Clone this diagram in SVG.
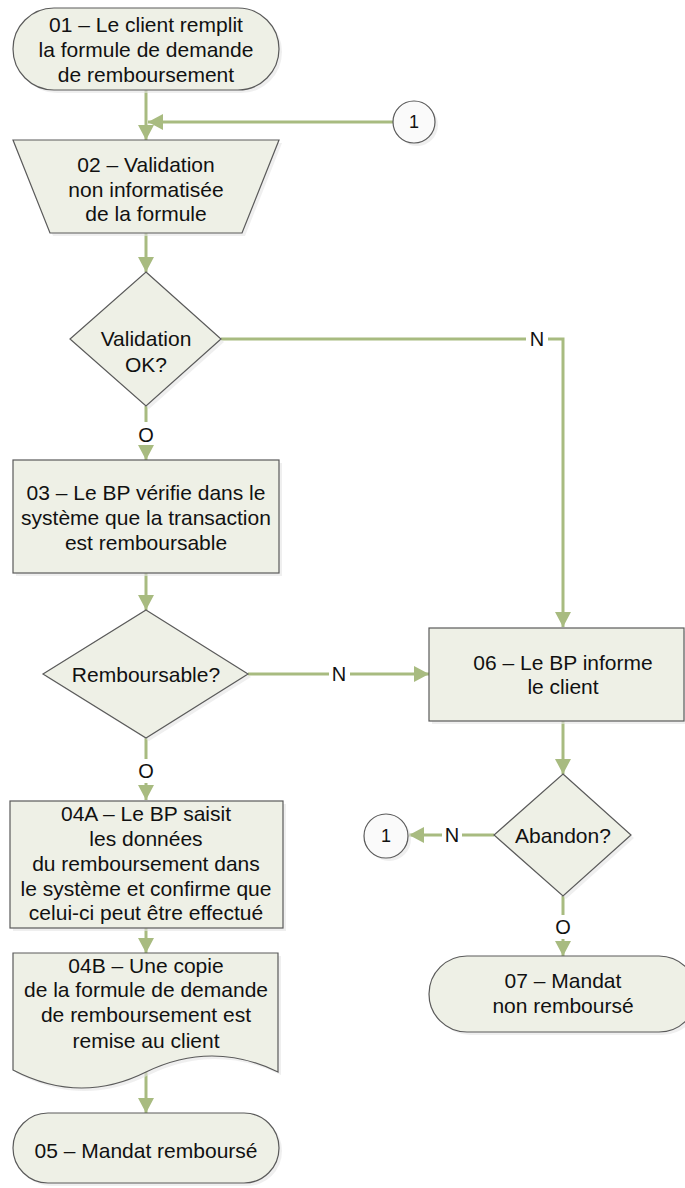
<svg xmlns="http://www.w3.org/2000/svg" width="685" height="1188" viewBox="0 0 685 1188">
<style>
.n{fill:#EEF0E6;stroke:#5a5a5a;stroke-width:1.2}
.sh{fill:#e4e4e4;opacity:0.6}
.c{fill:none;stroke:#A8BB80;stroke-width:3}
.t{font-family:"Liberation Sans",Arial,sans-serif;font-size:21px;fill:#111;text-anchor:middle}
.lb{font-family:"Liberation Sans",Arial,sans-serif;font-size:20px;fill:#111;text-anchor:middle}
.k{font-family:"Liberation Sans",Arial,sans-serif;font-size:18px;fill:#111;text-anchor:middle}
.ci{fill:#fafafa;stroke:#5a5a5a;stroke-width:1.2}
</style>
<defs>
<marker id="ar" markerUnits="userSpaceOnUse" markerWidth="16" markerHeight="16" refX="15" refY="8" orient="auto">
<path d="M0,0 L15,8 L0,16 z" fill="#A8BB80"/>
</marker>
</defs>
<g id="connectors">
<path class="c" d="M146,90 V140" marker-end="url(#ar)"/>
<path class="c" d="M393,122 H148" marker-end="url(#ar)"/>
<path class="c" d="M146,233 V272" marker-end="url(#ar)"/>
<path class="c" d="M221,339 H526 M548,339 H563 V627" marker-end="url(#ar)"/>
<path class="c" d="M146,406 V422 M146,447 V460" marker-end="url(#ar)"/>
<path class="c" d="M146,573 V610" marker-end="url(#ar)"/>
<path class="c" d="M248,674 H329 M350,674 H429" marker-end="url(#ar)"/>
<path class="c" d="M146,738 V759 M146,783 V800" marker-end="url(#ar)"/>
<path class="c" d="M563,721 V774" marker-end="url(#ar)"/>
<path class="c" d="M494,835 H462 M442,835 H409" marker-end="url(#ar)"/>
<path class="c" d="M563,896 V915 M563,939 V956" marker-end="url(#ar)"/>
<path class="c" d="M146,928 V953" marker-end="url(#ar)"/>
<path class="c" d="M146,1072 V1113" marker-end="url(#ar)"/>
<text class="lb" x="537" y="346">N</text>
<text class="lb" x="146" y="442">O</text>
<text class="lb" x="339" y="681">N</text>
<text class="lb" x="146" y="778">O</text>
<text class="lb" x="452" y="842">N</text>
<text class="lb" x="563" y="934">O</text>
</g>
<g id="n01">
<rect class="sh" x="16" y="11" width="266" height="82" rx="41"/>
<rect class="n" x="13" y="8" width="266" height="82" rx="41"/>
<text class="t" x="146" y="32">01 – Le client remplit</text>
<text class="t" x="146" y="57">la formule de demande</text>
<text class="t" x="146" y="82">de remboursement</text>
</g>
<g id="c1a">
<circle class="sh" cx="417" cy="125" r="21"/>
<circle class="ci" cx="414" cy="122" r="21"/>
<text class="k" x="414" y="128">1</text>
</g>
<g id="n02">
<path class="sh" d="M16,143 H282 L245,236 H53 z"/>
<path class="n" d="M13,140 H279 L242,233 H50 z"/>
<text class="t" x="146" y="172">02 – Validation</text>
<text class="t" x="146" y="197">non informatisée</text>
<text class="t" x="146" y="221">de la formule</text>
</g>
<g id="d1">
<path class="sh" d="M149,275 L224,342 L149,409 L73,342 z"/>
<path class="n" d="M146,272 L221,339 L146,406 L70,339 z"/>
<text class="t" x="146" y="346">Validation</text>
<text class="t" x="146" y="372">OK?</text>
</g>
<g id="n03">
<rect class="sh" x="16" y="463" width="266" height="113"/>
<rect class="n" x="13" y="460" width="266" height="113"/>
<text class="t" x="146" y="500">03 – Le BP vérifie dans le</text>
<text class="t" x="146" y="525">système que la transaction</text>
<text class="t" x="146" y="550">est remboursable</text>
</g>
<g id="d2">
<path class="sh" d="M149,613 L251,677 L149,741 L46,677 z"/>
<path class="n" d="M146,610 L248,674 L146,738 L43,674 z"/>
<text class="t" x="146" y="682">Remboursable?</text>
</g>
<g id="n06">
<rect class="sh" x="432" y="631" width="256" height="93"/>
<rect class="n" x="429" y="628" width="255" height="93"/>
<text class="t" x="563" y="670">06 – Le BP informe</text>
<text class="t" x="563" y="694">le client</text>
</g>
<g id="d3">
<path class="sh" d="M566,777 L634,838 L566,899 L497,838 z"/>
<path class="n" d="M563,774 L631,835 L563,896 L494,835 z"/>
<text class="t" x="563" y="843">Abandon?</text>
</g>
<g id="c1b">
<circle class="sh" cx="389" cy="839" r="22"/>
<circle class="ci" cx="386" cy="836" r="22"/>
<text class="k" x="386" y="842">1</text>
</g>
<g id="n07">
<rect class="sh" x="432" y="959" width="268" height="76" rx="38"/>
<rect class="n" x="429" y="956" width="268" height="76" rx="38"/>
<text class="t" x="563" y="988">07 – Mandat</text>
<text class="t" x="563" y="1013">non remboursé</text>
</g>
<g id="n04a">
<rect class="sh" x="13" y="804" width="273" height="127"/>
<rect class="n" x="10" y="801" width="273" height="127"/>
<text class="t" x="146" y="821">04A – Le BP saisit</text>
<text class="t" x="146" y="846">les données</text>
<text class="t" x="146" y="871">du remboursement dans</text>
<text class="t" x="146" y="896">le système et confirme que</text>
<text class="t" x="146" y="920">celui-ci peut être effectué</text>
</g>
<g id="n04b">
<path class="sh" d="M16,956 H281 V1075 Q215,1043 149,1075 Q83,1108 16,1073 z"/>
<path class="n" d="M13,953 H278 V1072 Q212,1040 146,1072 Q80,1105 13,1070 z"/>
<text class="t" x="146" y="973">04B – Une copie</text>
<text class="t" x="146" y="997">de la formule de demande</text>
<text class="t" x="146" y="1022">de remboursement est</text>
<text class="t" x="146" y="1048">remise au client</text>
</g>
<g id="n05">
<rect class="sh" x="16" y="1116" width="266" height="70" rx="35"/>
<rect class="n" x="13" y="1113" width="266" height="70" rx="35"/>
<text class="t" x="146" y="1158">05 – Mandat remboursé</text>
</g>
</svg>
